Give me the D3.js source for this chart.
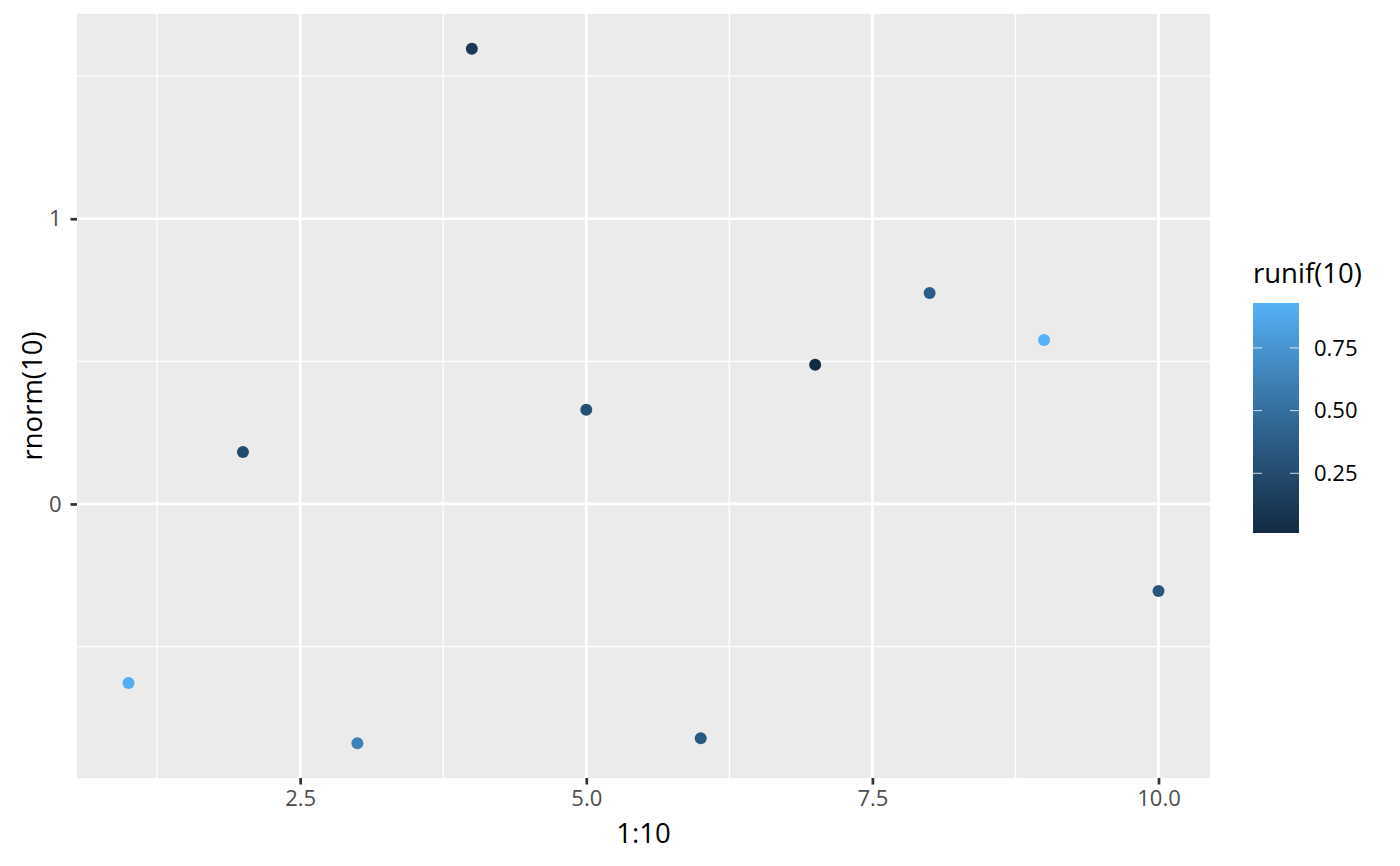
<!DOCTYPE html>
<html>
<head>
<meta charset="utf-8">
<script src="https://cdn.jsdelivr.net/npm/d3@7"></script>
<style>
  body { margin: 0; background: #fff; }
  text { font-family: "Open Sans", "Noto Sans", sans-serif; }
</style>
</head>
<body>
<svg id="chart" width="1400" height="866"></svg>
<script>
// data
const xs = [1, 2, 3, 4, 5, 6, 7, 8, 9, 10];
const ys = [-0.628, 0.182, -0.839, 1.596, 0.330, -0.821, 0.488, 0.740, 0.575, -0.305];
const us = [0.90, 0.25, 0.62, 0.12, 0.28, 0.35, 0.012, 0.38, 0.929, 0.33];
const xTicks = [2.5, 5.0, 7.5, 10.0];
const yTicks = [0, 1];
const legendTicks = [0.25, 0.5, 0.75];

const svg = d3.select("#chart");
const panel = {left: 77, right: 1210, top: 14, bottom: 778};

// ggplot style 5% expansion
const xExt = d3.extent(xs), yExt = d3.extent(ys);
const xPad = (xExt[1] - xExt[0]) * 0.05, yPad = (yExt[1] - yExt[0]) * 0.05;

const x = d3.scaleLinear()
  .domain([xExt[0] - xPad, xExt[1] + xPad])
  .range([panel.left, panel.right]);
const y = d3.scaleLinear()
  .domain([yExt[0] - yPad, yExt[1] + yPad])
  .range([panel.bottom, panel.top]);

const color = d3.scaleLinear()
  .domain(d3.extent(us))
  .range(["#132B43", "#56B1F7"])
  .interpolate(d3.interpolateLab);

svg.append("rect")
  .attr("x", panel.left).attr("y", panel.top)
  .attr("width", panel.right - panel.left)
  .attr("height", panel.bottom - panel.top)
  .attr("fill", "#EBEBEB");

// minor grid
let xMinor = [];
for (let i = 0; i < xTicks.length; i++) xMinor.push(xTicks[i] - 1.25);
let yMinor = [-0.5, 0.5, 1.5];

svg.selectAll(".xminor").data(xMinor).join("line")
  .attr("x1", d => x(d)).attr("x2", d => x(d))
  .attr("y1", panel.top).attr("y2", panel.bottom)
  .attr("stroke", "#fff").attr("stroke-width", 1.35);
svg.selectAll(".yminor").data(yMinor).join("line")
  .attr("y1", d => y(d)).attr("y2", d => y(d))
  .attr("x1", panel.left).attr("x2", panel.right)
  .attr("stroke", "#fff").attr("stroke-width", 1.35);

// major grid
svg.selectAll(".xmajor").data(xTicks).join("line")
  .attr("x1", d => x(d)).attr("x2", d => x(d))
  .attr("y1", panel.top).attr("y2", panel.bottom)
  .attr("stroke", "#fff").attr("stroke-width", 2.7);
svg.selectAll(".ymajor").data(yTicks).join("line")
  .attr("y1", d => y(d)).attr("y2", d => y(d))
  .attr("x1", panel.left).attr("x2", panel.right)
  .attr("stroke", "#fff").attr("stroke-width", 2.7);

// axes
const xAxis = svg.append("g")
  .attr("transform", `translate(0, ${panel.bottom})`)
  .call(d3.axisBottom(x).tickValues(xTicks).tickFormat(d3.format(".1f")).tickSize(6.5).tickPadding(6));
const yAxis = svg.append("g")
  .attr("transform", `translate(${panel.left}, 0)`)
  .call(d3.axisLeft(y).tickValues(yTicks).tickFormat(d3.format("d")).tickSize(6.5).tickPadding(9));

[xAxis, yAxis].forEach(function (g) {
  g.select(".domain").remove();
  g.selectAll(".tick line").attr("stroke", "#333").attr("stroke-width", 2.7);
  g.selectAll(".tick text")
    .attr("fill", "#4D4D4D")
    .attr("font-size", 22)
    .attr("font-family", "'Open Sans', 'Noto Sans', sans-serif");
});

svg.append("text")
  .attr("x", (panel.left + panel.right) / 2)
  .attr("y", 843)
  .attr("text-anchor", "middle")
  .attr("font-size", 27.5)
  .text("1:10");

svg.append("text")
  .attr("transform", `translate(42, ${(panel.top + panel.bottom) / 2}) rotate(-90)`)
  .attr("text-anchor", "middle")
  .attr("font-size", 27.5)
  .text("rnorm(10)");

// points
svg.selectAll(".pt").data(xs).join("circle")
  .attr("cx", d => x(d))
  .attr("cy", (d, i) => y(ys[i]))
  .attr("r", 6)
  .attr("fill", (d, i) => color(us[i]));

// legend
const leg = {x: 1253, w: 46, top: 303, bottom: 533};
const lScale = d3.scaleLinear()
  .domain(d3.extent(us))
  .range([leg.bottom, leg.top]);

const defs = svg.append("defs");
const grad = defs.append("linearGradient")
  .attr("id", "grad")
  .attr("x1", 0).attr("x2", 0).attr("y1", 1).attr("y2", 0);
d3.range(0, 1.0001, 0.1).forEach(function (t) {
  grad.append("stop")
    .attr("offset", t)
    .attr("stop-color", color(lScale.domain()[0] + t * (lScale.domain()[1] - lScale.domain()[0])));
});

svg.append("rect")
  .attr("x", leg.x).attr("y", leg.top)
  .attr("width", leg.w).attr("height", leg.bottom - leg.top)
  .attr("fill", "url(#grad)");

svg.selectAll(".ltickL").data(legendTicks).join("line")
  .attr("x1", leg.x).attr("x2", leg.x + 9)
  .attr("y1", d => lScale(d)).attr("y2", d => lScale(d))
  .attr("stroke", "#fff").attr("stroke-opacity", 0.8).attr("stroke-width", 1);
svg.selectAll(".ltickR").data(legendTicks).join("line")
  .attr("x1", leg.x + leg.w - 9).attr("x2", leg.x + leg.w)
  .attr("y1", d => lScale(d)).attr("y2", d => lScale(d))
  .attr("stroke", "#fff").attr("stroke-opacity", 0.8).attr("stroke-width", 1);

svg.selectAll(".llab").data(legendTicks).join("text")
  .attr("x", 1314)
  .attr("y", d => lScale(d))
  .attr("dy", "0.35em")
  .attr("font-size", 22)
  .text(d => d3.format(".2f")(d));

svg.append("text")
  .attr("x", 1253)
  .attr("y", 283)
  .attr("font-size", 27.5)
  .text("runif(10)");
</script>
</body>
</html>
